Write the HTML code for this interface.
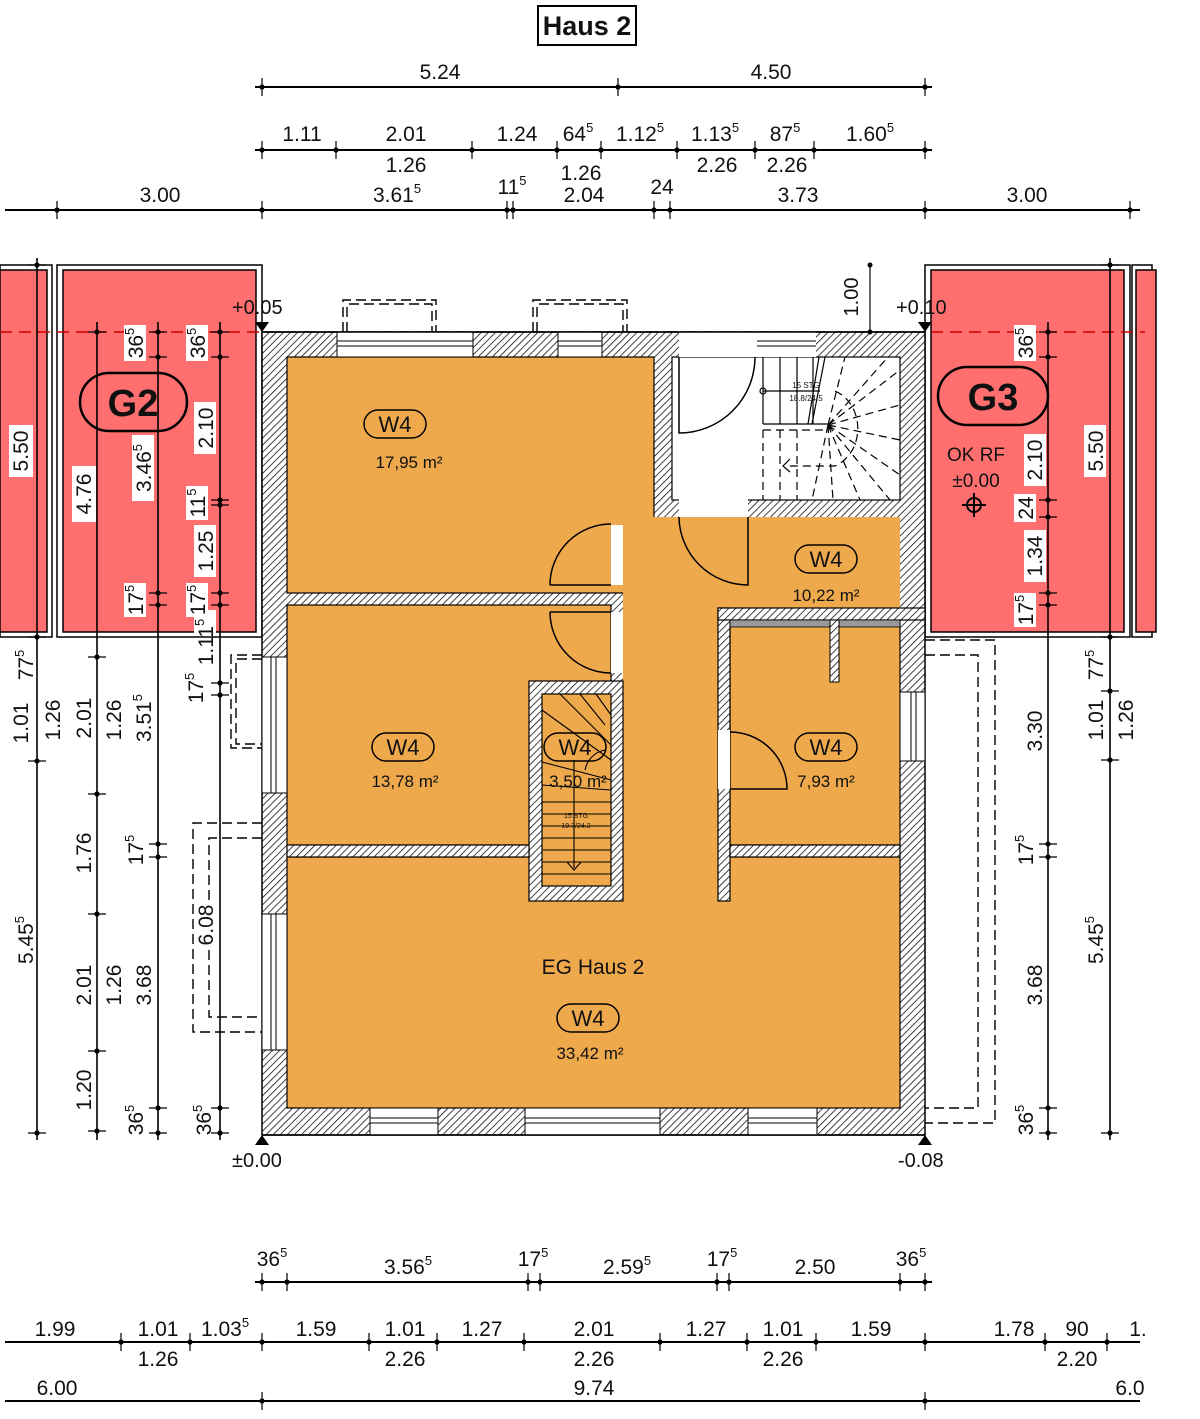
<!DOCTYPE html>
<html><head><meta charset="utf-8"><style>
html,body{margin:0;padding:0;background:#fff}
svg{display:block}
text{font-family:"Liberation Sans Narrow","Liberation Sans",sans-serif;fill:#111}
</style></head><body>
<svg width="1200" height="1419" viewBox="0 0 1200 1419" xmlns="http://www.w3.org/2000/svg">
<defs>
<pattern id="h" patternUnits="userSpaceOnUse" width="5" height="5" patternTransform="rotate(45)">
<rect width="5" height="5" fill="#fff"/><line x1="0" y1="0" x2="0" y2="5" stroke="#111" stroke-width="1.6"/>
</pattern>
<g id="tk"><circle r="2.6" fill="#000"/></g>
</defs>

<!-- title -->
<rect x="538" y="6" width="98" height="39" fill="#fff" stroke="#000" stroke-width="2"/>
<text x="587" y="35" font-size="27" font-weight="bold" text-anchor="middle">Haus 2</text>

<!-- garages -->
<g stroke="#000" stroke-width="1.5">
<rect x="0" y="265" width="52" height="372" fill="#fff"/>
<rect x="0" y="270" width="47" height="362" fill="#ff6f6f"/>
<rect x="57" y="265" width="205" height="372" fill="#fff"/>
<rect x="63" y="270" width="193" height="362" fill="#ff6f6f"/>
<rect x="925" y="265" width="205" height="372" fill="#fff"/>
<rect x="931" y="270" width="193" height="362" fill="#ff6f6f"/>
<rect x="1132" y="265" width="20" height="372" fill="#fff"/>
<rect x="1136" y="270" width="20" height="362" fill="#ff6f6f"/>
</g>
<line x1="0" y1="332" x2="1145" y2="332" stroke="#c00" stroke-width="1.5" stroke-dasharray="12,7"/>

<!-- building -->
<rect x="262" y="332" width="663" height="803" fill="url(#h)" stroke="#000" stroke-width="1.5"/>
<g fill="#eea94d" stroke="#000" stroke-width="1.2">
<rect x="287" y="357" width="367" height="236"/>
<rect x="287" y="605" width="324" height="240"/>
<rect x="287" y="857" width="613" height="251"/>
<rect x="730" y="620" width="170" height="225"/>
</g>
<rect x="623" y="517" width="95" height="341" fill="#eea94d"/>
<rect x="623" y="517" width="277" height="91" fill="#eea94d"/>
<rect x="672" y="357" width="228" height="143" fill="#fff" stroke="#000" stroke-width="1.2"/>
<rect x="679" y="498" width="69" height="19" fill="#fff"/>
<!-- stair box -->
<rect x="529" y="681" width="94" height="220" fill="url(#h)" stroke="#000" stroke-width="1.2"/>
<rect x="542" y="694" width="69" height="192" fill="#eea94d" stroke="#000" stroke-width="1.2"/>
<!-- right partition -->
<rect x="718" y="608" width="12" height="293" fill="url(#h)" stroke="#000" stroke-width="1.2"/>
<rect x="718" y="608" width="207" height="12" fill="url(#h)" stroke="#000" stroke-width="1.2"/>
<rect x="730" y="620" width="170" height="7" fill="#999" stroke="#000" stroke-width="0.8"/>
<rect x="830" y="620" width="9" height="62" fill="url(#h)" stroke="#000" stroke-width="1"/>
<rect x="730" y="845" width="170" height="12" fill="url(#h)" stroke="#000" stroke-width="1.2"/>
<rect x="287" y="845" width="242" height="12" fill="url(#h)" stroke="#000" stroke-width="1.2"/>
<!-- door gaps -->
<g fill="#fff">
<rect x="611" y="525" width="12" height="60"/>
<rect x="611" y="612" width="12" height="61"/>
<rect x="718" y="730" width="12" height="59"/>
</g>
<!-- windows -->
<g fill="#fff" stroke="#000" stroke-width="1">
<rect x="337" y="332" width="136" height="25"/><line x1="337" y1="341" x2="473" y2="341"/><line x1="337" y1="346" x2="473" y2="346"/>
<rect x="558" y="332" width="44" height="25"/><line x1="558" y1="341" x2="602" y2="341"/><line x1="558" y1="346" x2="602" y2="346"/>
<rect x="679" y="332" width="137" height="25" stroke="none"/><line x1="757" y1="341" x2="816" y2="341"/><line x1="757" y1="346" x2="816" y2="346"/>
<rect x="370" y="1108" width="68" height="27"/><line x1="370" y1="1118" x2="438" y2="1118"/><line x1="370" y1="1123" x2="438" y2="1123"/>
<rect x="525" y="1108" width="135" height="27"/><line x1="525" y1="1118" x2="660" y2="1118"/><line x1="525" y1="1123" x2="660" y2="1123"/>
<rect x="748" y="1108" width="69" height="27"/><line x1="748" y1="1118" x2="817" y2="1118"/><line x1="748" y1="1123" x2="817" y2="1123"/>
<rect x="262" y="657" width="25" height="136"/><line x1="271" y1="657" x2="271" y2="793"/><line x1="276" y1="657" x2="276" y2="793"/>
<rect x="262" y="914" width="25" height="136"/><line x1="271" y1="914" x2="271" y2="1050"/><line x1="276" y1="914" x2="276" y2="1050"/>
<rect x="900" y="692" width="25" height="69"/><line x1="911" y1="692" x2="911" y2="761"/><line x1="916" y1="692" x2="916" y2="761"/>
</g>
<line x1="262" y1="332" x2="925" y2="332" stroke="#000" stroke-width="1.5"/>
<line x1="262" y1="1135" x2="925" y2="1135" stroke="#000" stroke-width="1.5"/>

<!-- doors -->
<g fill="none" stroke="#000" stroke-width="1.5">
<path d="M550 585 L611 585 M550 585 A61 61 0 0 1 611 524"/>
<path d="M550 612 L611 612 M550 612 A61 61 0 0 0 611 673"/>
<path d="M748 517 L748 585 A69 69 0 0 1 679 517"/>
<path d="M679 357 L679 433 A76 76 0 0 0 755 357"/>
<path d="M730 789 L787 789 A57 57 0 0 0 730 732"/>
</g>

<!-- upper stair -->
<g stroke="#000" stroke-width="1.2" fill="none">
<line x1="763" y1="357" x2="763" y2="424"/><line x1="780" y1="357" x2="780" y2="424"/><line x1="797" y1="357" x2="797" y2="424"/><line x1="813" y1="357" x2="813" y2="424"/>
<line x1="763" y1="424" x2="828" y2="424"/><line x1="763" y1="391" x2="820" y2="391"/><circle cx="763" cy="391" r="3"/>
<line x1="819" y1="357" x2="808" y2="424"/><line x1="825" y1="357" x2="812" y2="424"/>
<g stroke-dasharray="8,5">
<line x1="763" y1="430" x2="763" y2="500"/><line x1="780" y1="430" x2="780" y2="500"/><line x1="797" y1="430" x2="797" y2="500"/>
<line x1="763" y1="430" x2="828" y2="430"/>
<line x1="828" y1="425" x2="900" y2="370"/><line x1="828" y1="425" x2="888" y2="357"/><line x1="828" y1="425" x2="900" y2="405"/><line x1="828" y1="425" x2="900" y2="440"/><line x1="828" y1="425" x2="900" y2="475"/><line x1="828" y1="425" x2="890" y2="500"/><line x1="828" y1="425" x2="860" y2="500"/><line x1="828" y1="425" x2="833" y2="500"/><line x1="828" y1="425" x2="812" y2="500"/><line x1="828" y1="425" x2="845" y2="357"/>
<path d="M835 391 A35 40 0 0 1 835 466 L785 466"/>
</g>
<path d="M790 459 L783 466 L790 472"/>
</g>
<text x="806" y="388" font-size="8" text-anchor="middle">15 STG</text>
<text x="806" y="401" font-size="8" text-anchor="middle">18.8/24.5</text>

<!-- lower stair -->
<g stroke="#000" stroke-width="1.1" fill="none">
<line x1="542" y1="802" x2="611" y2="802"/><line x1="542" y1="814" x2="611" y2="814"/><line x1="542" y1="826" x2="611" y2="826"/><line x1="542" y1="838" x2="611" y2="838"/><line x1="542" y1="850" x2="611" y2="850"/><line x1="542" y1="862" x2="611" y2="862"/><line x1="542" y1="874" x2="611" y2="874"/>
<line x1="542" y1="785" x2="611" y2="790"/><line x1="542" y1="762" x2="611" y2="780"/><line x1="542" y1="710" x2="611" y2="760"/><line x1="560" y1="694" x2="611" y2="745"/><line x1="580" y1="694" x2="605" y2="725"/><line x1="596" y1="694" x2="611" y2="715"/>
<path d="M605 750 A25 25 0 0 0 585 770"/>
<line x1="574" y1="760" x2="574" y2="868"/><path d="M567 862 L574 870 L581 862 Z"/>
</g>
<text x="576" y="818" font-size="7" text-anchor="middle">15 STG</text>
<text x="576" y="828" font-size="7" text-anchor="middle">19.7/24.2</text>

<!-- dashed outlines -->
<g fill="none" stroke="#000" stroke-width="1.4" stroke-dasharray="10,5">
<path d="M343 332 V300 H436 V332"/><path d="M347 332 V304 H432 V332"/>
<path d="M533 332 V300 H627 V332"/><path d="M537 332 V304 H623 V332"/>
<path d="M262 655 H231 V748 H262"/><path d="M262 659 H236 V744 H262"/>
<path d="M262 823 H193 V1032 H262"/><path d="M262 838 H209 V1017 H262"/>
<path d="M925 655 H978 V1108 H925"/><path d="M925 640 H995 V1123 H925"/>
</g>

<!-- room labels -->
<g fill="none" stroke="#000" stroke-width="1.5">
<rect x="364" y="410" width="62" height="28" rx="14"/>
<rect x="372" y="733" width="62" height="28" rx="14"/>
<rect x="544" y="733" width="62" height="28" rx="14"/>
<rect x="795" y="545" width="62" height="28" rx="14"/>
<rect x="795" y="733" width="62" height="28" rx="14"/>
<rect x="557" y="1004" width="62" height="28" rx="14"/>
<rect x="80" y="373" width="107" height="58" rx="29" stroke-width="2.5"/>
<rect x="938" y="367" width="110" height="58" rx="29" stroke-width="2.5"/>
</g>
<g font-size="22" text-anchor="middle">
<text x="395" y="432">W4</text><text x="403" y="755">W4</text><text x="575" y="755">W4</text>
<text x="826" y="567">W4</text><text x="826" y="755">W4</text><text x="588" y="1026">W4</text>
</g>
<g font-size="17" text-anchor="middle">
<text x="409" y="468">17,95 m²</text><text x="405" y="787">13,78 m²</text><text x="578" y="787">3,50 m²</text>
<text x="826" y="601">10,22 m²</text><text x="826" y="787">7,93 m²</text><text x="590" y="1059">33,42 m²</text>
<text x="593" y="974" font-size="21">EG Haus 2</text>
</g>
<text x="133" y="416" font-size="38" font-weight="bold" text-anchor="middle" font-family="Liberation Sans">G2</text>
<text x="993" y="410" font-size="38" font-weight="bold" text-anchor="middle" font-family="Liberation Sans">G3</text>
<text x="976" y="461" font-size="19" text-anchor="middle">OK RF</text>
<text x="976" y="487" font-size="19" text-anchor="middle">±0.00</text>
<circle cx="974" cy="505" r="7" fill="none" stroke="#000" stroke-width="2"/><line x1="962" y1="505" x2="986" y2="505" stroke="#000" stroke-width="2"/><line x1="974" y1="493" x2="974" y2="517" stroke="#000" stroke-width="2"/>

<!-- level markers -->
<path d="M255 322 L269 322 L262 332 Z M918 322 L932 322 L925 332 Z M255 1145 L269 1145 L262 1135 Z M918 1145 L932 1145 L925 1135 Z" fill="#000"/>
<g font-size="20">
<text x="232" y="314">+0.05</text><text x="896" y="314">+0.10</text>
<text x="232" y="1167">±0.00</text><text x="898" y="1167">-0.08</text>
</g>
<line x1="870" y1="265" x2="870" y2="332" stroke="#000" stroke-width="1.2"/><circle cx="870" cy="332" r="2.5"/><circle cx="870" cy="265" r="2.5"/>
<text transform="translate(858,297) rotate(-90)" font-size="20" text-anchor="middle">1.00</text>

<!-- horizontal dimension lines -->
<g stroke="#000" stroke-width="2">
<line x1="255" y1="87" x2="932" y2="87"/>
<line x1="255" y1="150" x2="932" y2="150"/>
<line x1="5" y1="210" x2="1140" y2="210"/>
<line x1="255" y1="1282" x2="932" y2="1282"/>
<line x1="5" y1="1342" x2="1140" y2="1342"/>
<line x1="5" y1="1401" x2="1140" y2="1401"/>
</g>
<g stroke="#000" stroke-width="1.2" fill="#000">
<path d="M262 78V96M618 78V96M925 78V96"/>
<path d="M262 141V159M336 141V159M472 141V159M557 141V159M601 141V159M677 141V159M755 141V159M814 141V159M925 141V159"/>
<path d="M57 201V219M262 201V219M507 201V219M513 201V219M654 201V219M670 201V219M925 201V219M1130 201V219"/>
<path d="M262 1273V1291M287 1273V1291M528 1273V1291M540 1273V1291M717 1273V1291M729 1273V1291M900 1273V1291M925 1273V1291"/>
<path d="M121 1333V1351M190 1333V1351M262 1333V1351M369 1333V1351M437 1333V1351M524 1333V1351M660 1333V1351M747 1333V1351M816 1333V1351M925 1333V1351M1045 1333V1351M1107 1333V1351"/>
<path d="M262 1392V1410M925 1392V1410"/>
</g>
<g fill="#000">
<circle cx="262" cy="87" r="2.6"/><circle cx="618" cy="87" r="2.6"/><circle cx="925" cy="87" r="2.6"/>
<circle cx="262" cy="150" r="2.6"/><circle cx="336" cy="150" r="2.6"/><circle cx="472" cy="150" r="2.6"/><circle cx="557" cy="150" r="2.6"/><circle cx="601" cy="150" r="2.6"/><circle cx="677" cy="150" r="2.6"/><circle cx="755" cy="150" r="2.6"/><circle cx="814" cy="150" r="2.6"/><circle cx="925" cy="150" r="2.6"/>
<circle cx="57" cy="210" r="2.6"/><circle cx="262" cy="210" r="2.6"/><circle cx="507" cy="210" r="2.6"/><circle cx="513" cy="210" r="2.6"/><circle cx="654" cy="210" r="2.6"/><circle cx="670" cy="210" r="2.6"/><circle cx="925" cy="210" r="2.6"/><circle cx="1130" cy="210" r="2.6"/>
<circle cx="262" cy="1282" r="2.6"/><circle cx="287" cy="1282" r="2.6"/><circle cx="528" cy="1282" r="2.6"/><circle cx="540" cy="1282" r="2.6"/><circle cx="717" cy="1282" r="2.6"/><circle cx="729" cy="1282" r="2.6"/><circle cx="900" cy="1282" r="2.6"/><circle cx="925" cy="1282" r="2.6"/>
<circle cx="121" cy="1342" r="2.6"/><circle cx="190" cy="1342" r="2.6"/><circle cx="262" cy="1342" r="2.6"/><circle cx="369" cy="1342" r="2.6"/><circle cx="437" cy="1342" r="2.6"/><circle cx="524" cy="1342" r="2.6"/><circle cx="660" cy="1342" r="2.6"/><circle cx="747" cy="1342" r="2.6"/><circle cx="816" cy="1342" r="2.6"/><circle cx="925" cy="1342" r="2.6"/><circle cx="1045" cy="1342" r="2.6"/><circle cx="1107" cy="1342" r="2.6"/>
<circle cx="262" cy="1401" r="2.6"/><circle cx="925" cy="1401" r="2.6"/>
</g>
<g font-size="21" text-anchor="middle">
<text x="440" y="79">5.24</text><text x="771" y="79">4.50</text>
<text x="302" y="141">1.11</text><text x="406" y="141">2.01</text><text x="517" y="141">1.24</text><text x="578" y="141">64<tspan font-size="13" dy="-9">5</tspan></text><text x="640" y="141">1.12<tspan font-size="13" dy="-9">5</tspan></text><text x="715" y="141">1.13<tspan font-size="13" dy="-9">5</tspan></text><text x="785" y="141">87<tspan font-size="13" dy="-9">5</tspan></text><text x="870" y="141">1.60<tspan font-size="13" dy="-9">5</tspan></text>
<text x="406" y="172">1.26</text><text x="581" y="180">1.26</text><text x="717" y="172">2.26</text><text x="787" y="172">2.26</text>
<text x="160" y="202">3.00</text><text x="397" y="202">3.61<tspan font-size="13" dy="-9">5</tspan></text><text x="512" y="194">11<tspan font-size="13" dy="-9">5</tspan></text><text x="584" y="202">2.04</text><text x="662" y="194">24</text><text x="798" y="202">3.73</text><text x="1027" y="202">3.00</text>
<text x="272" y="1266">36<tspan font-size="13" dy="-9">5</tspan></text><text x="408" y="1274">3.56<tspan font-size="13" dy="-9">5</tspan></text><text x="533" y="1266">17<tspan font-size="13" dy="-9">5</tspan></text><text x="627" y="1274">2.59<tspan font-size="13" dy="-9">5</tspan></text><text x="722" y="1266">17<tspan font-size="13" dy="-9">5</tspan></text><text x="815" y="1274">2.50</text><text x="911" y="1266">36<tspan font-size="13" dy="-9">5</tspan></text>
<text x="55" y="1336">1.99</text><text x="158" y="1336">1.01</text><text x="225" y="1336">1.03<tspan font-size="13" dy="-9">5</tspan></text><text x="316" y="1336">1.59</text><text x="405" y="1336">1.01</text><text x="482" y="1336">1.27</text><text x="594" y="1336">2.01</text><text x="706" y="1336">1.27</text><text x="783" y="1336">1.01</text><text x="871" y="1336">1.59</text><text x="1014" y="1336">1.78</text><text x="1077" y="1336">90</text><text x="1138" y="1336">1.</text>
<text x="158" y="1366">1.26</text><text x="405" y="1366">2.26</text><text x="594" y="1366">2.26</text><text x="783" y="1366">2.26</text><text x="1077" y="1366">2.20</text>
<text x="57" y="1395">6.00</text><text x="594" y="1395">9.74</text><text x="1130" y="1395">6.0</text>
</g>

<!-- vertical dimension lines -->
<g stroke="#000" stroke-width="1.6">
<line x1="37" y1="258" x2="37" y2="1140"/>
<line x1="97" y1="322" x2="97" y2="1140"/>
<line x1="158" y1="322" x2="158" y2="1140"/>
<line x1="220" y1="322" x2="220" y2="1140"/>
<line x1="1048" y1="322" x2="1048" y2="1140"/>
<line x1="1110" y1="258" x2="1110" y2="1140"/>
</g>
<g stroke="#000" stroke-width="1.2">
<path d="M28 265H46M28 637H46M28 761H46M28 1133H46"/>
<path d="M88 332H106M88 657H106M88 794H106M88 914H106M88 1051H106M88 1131H106"/>
<path d="M149 332H167M149 357H167M149 593H167M149 605H167M149 844H167M149 857H167M149 1108H167M149 1133H167"/>
<path d="M211 332H229M211 357H229M211 500H229M211 505H229M211 593H229M211 605H229M211 683H229M211 695H229M211 1108H229M211 1133H229"/>
<path d="M1039 332H1057M1039 357H1057M1039 500H1057M1039 517H1057M1039 593H1057M1039 605H1057M1039 844H1057M1039 857H1057M1039 1108H1057M1039 1133H1057"/>
<path d="M1101 265H1119M1101 637H1119M1101 691H1119M1101 760H1119M1101 1133H1119"/>
</g>
<g fill="#000">
<circle cx="37" cy="265" r="2.6"/><circle cx="37" cy="637" r="2.6"/><circle cx="37" cy="761" r="2.6"/><circle cx="37" cy="1133" r="2.6"/>
<circle cx="97" cy="332" r="2.6"/><circle cx="97" cy="657" r="2.6"/><circle cx="97" cy="794" r="2.6"/><circle cx="97" cy="914" r="2.6"/><circle cx="97" cy="1051" r="2.6"/><circle cx="97" cy="1131" r="2.6"/>
<circle cx="158" cy="332" r="2.6"/><circle cx="158" cy="357" r="2.6"/><circle cx="158" cy="593" r="2.6"/><circle cx="158" cy="605" r="2.6"/><circle cx="158" cy="844" r="2.6"/><circle cx="158" cy="857" r="2.6"/><circle cx="158" cy="1108" r="2.6"/><circle cx="158" cy="1133" r="2.6"/>
<circle cx="220" cy="332" r="2.6"/><circle cx="220" cy="357" r="2.6"/><circle cx="220" cy="500" r="2.6"/><circle cx="220" cy="505" r="2.6"/><circle cx="220" cy="593" r="2.6"/><circle cx="220" cy="605" r="2.6"/><circle cx="220" cy="683" r="2.6"/><circle cx="220" cy="695" r="2.6"/><circle cx="220" cy="1108" r="2.6"/><circle cx="220" cy="1133" r="2.6"/>
<circle cx="1048" cy="332" r="2.6"/><circle cx="1048" cy="357" r="2.6"/><circle cx="1048" cy="500" r="2.6"/><circle cx="1048" cy="517" r="2.6"/><circle cx="1048" cy="593" r="2.6"/><circle cx="1048" cy="605" r="2.6"/><circle cx="1048" cy="844" r="2.6"/><circle cx="1048" cy="857" r="2.6"/><circle cx="1048" cy="1108" r="2.6"/><circle cx="1048" cy="1133" r="2.6"/>
<circle cx="1110" cy="265" r="2.6"/><circle cx="1110" cy="637" r="2.6"/><circle cx="1110" cy="691" r="2.6"/><circle cx="1110" cy="760" r="2.6"/><circle cx="1110" cy="1133" r="2.6"/>
</g>
<!-- white label backgrounds -->
<g fill="#fff">
<rect x="9" y="425" width="24" height="52"/><rect x="72" y="466" width="24" height="56"/>
<rect x="124" y="325" width="22" height="36"/><rect x="132" y="435" width="22" height="66"/><rect x="124" y="583" width="22" height="34"/>
<rect x="186" y="325" width="22" height="36"/><rect x="194" y="402" width="22" height="52"/><rect x="186" y="486" width="22" height="34"/><rect x="194" y="525" width="22" height="52"/><rect x="186" y="583" width="22" height="34"/><rect x="194" y="610" width="22" height="25"/>
<rect x="1014" y="325" width="22" height="36"/><rect x="1024" y="434" width="22" height="52"/><rect x="1014" y="494" width="22" height="28"/><rect x="1024" y="530" width="22" height="52"/><rect x="1014" y="593" width="22" height="34"/>
<rect x="1084" y="425" width="22" height="52"/>
</g>
<g font-size="21" text-anchor="middle">
<text transform="translate(28,451) rotate(-90)">5.50</text>
<text transform="translate(28,723) rotate(-90)">1.01</text>
<text transform="translate(33,665) rotate(-90)">77<tspan font-size="13" dy="-9">5</tspan></text>
<text transform="translate(33,940) rotate(-90)">5.45<tspan font-size="13" dy="-9">5</tspan></text>
<text transform="translate(60,720) rotate(-90)">1.26</text>
<text transform="translate(91,494) rotate(-90)">4.76</text>
<text transform="translate(91,718) rotate(-90)">2.01</text>
<text transform="translate(91,853) rotate(-90)">1.76</text>
<text transform="translate(91,985) rotate(-90)">2.01</text>
<text transform="translate(91,1090) rotate(-90)">1.20</text>
<text transform="translate(121,720) rotate(-90)">1.26</text>
<text transform="translate(121,985) rotate(-90)">1.26</text>
<text transform="translate(143,343) rotate(-90)">36<tspan font-size="13" dy="-9">5</tspan></text>
<text transform="translate(151,468) rotate(-90)">3.46<tspan font-size="13" dy="-9">5</tspan></text>
<text transform="translate(143,600) rotate(-90)">17<tspan font-size="13" dy="-9">5</tspan></text>
<text transform="translate(151,718) rotate(-90)">3.51<tspan font-size="13" dy="-9">5</tspan></text>
<text transform="translate(143,850) rotate(-90)">17<tspan font-size="13" dy="-9">5</tspan></text>
<text transform="translate(151,985) rotate(-90)">3.68</text>
<text transform="translate(143,1120) rotate(-90)">36<tspan font-size="13" dy="-9">5</tspan></text>
<text transform="translate(205,343) rotate(-90)">36<tspan font-size="13" dy="-9">5</tspan></text>
<text transform="translate(213,428) rotate(-90)">2.10</text>
<text transform="translate(205,503) rotate(-90)">11<tspan font-size="13" dy="-9">5</tspan></text>
<text transform="translate(213,551) rotate(-90)">1.25</text>
<text transform="translate(205,600) rotate(-90)">17<tspan font-size="13" dy="-9">5</tspan></text>
<text transform="translate(213,642) rotate(-90)">1.11<tspan font-size="13" dy="-9">5</tspan></text>
<text transform="translate(203,688) rotate(-90)">17<tspan font-size="13" dy="-9">5</tspan></text>
<text transform="translate(211,1120) rotate(-90)">36<tspan font-size="13" dy="-9">5</tspan></text>
<text transform="translate(1033,343) rotate(-90)">36<tspan font-size="13" dy="-9">5</tspan></text>
<text transform="translate(1042,460) rotate(-90)">2.10</text>
<text transform="translate(1033,508) rotate(-90)">24</text>
<text transform="translate(1042,556) rotate(-90)">1.34</text>
<text transform="translate(1033,610) rotate(-90)">17<tspan font-size="13" dy="-9">5</tspan></text>
<text transform="translate(1042,731) rotate(-90)">3.30</text>
<text transform="translate(1033,850) rotate(-90)">17<tspan font-size="13" dy="-9">5</tspan></text>
<text transform="translate(1042,985) rotate(-90)">3.68</text>
<text transform="translate(1033,1120) rotate(-90)">36<tspan font-size="13" dy="-9">5</tspan></text>
<text transform="translate(1103,451) rotate(-90)">5.50</text>
<text transform="translate(1103,665) rotate(-90)">77<tspan font-size="13" dy="-9">5</tspan></text>
<text transform="translate(1103,720) rotate(-90)">1.01</text>
<text transform="translate(1133,720) rotate(-90)">1.26</text>
<text transform="translate(1103,940) rotate(-90)">5.45<tspan font-size="13" dy="-9">5</tspan></text>
</g>
<rect x="196" y="905" width="20" height="40" fill="#fff"/>
<text transform="translate(213,925) rotate(-90)" font-size="21" text-anchor="middle">6.08</text>
</svg>
</body></html>
